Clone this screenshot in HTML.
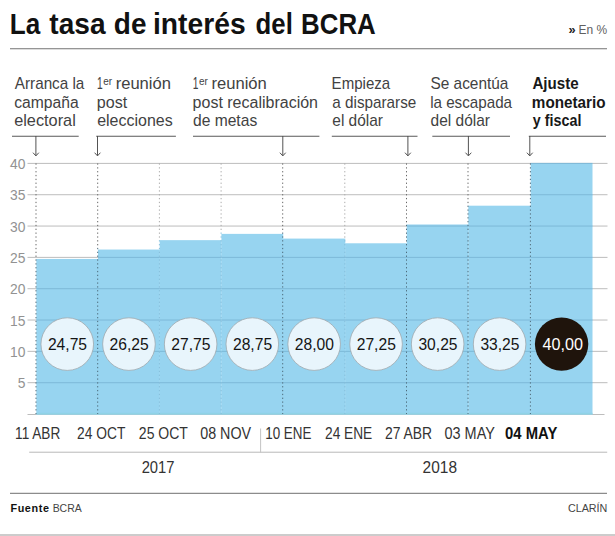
<!DOCTYPE html><html><head><meta charset="utf-8"><style>html,body{margin:0;padding:0;background:#fff}svg{display:block}text{font-family:"Liberation Sans",sans-serif}</style></head><body>
<svg width="615" height="536" viewBox="0 0 615 536">
<rect width="615" height="536" fill="#fff"/>
<text transform="translate(9.74,34.00) scale(0.8824,1)" font-size="29.6" font-weight="bold" fill="#111">La</text>
<text transform="translate(49.34,34.00) scale(0.9492,1)" font-size="29.6" font-weight="bold" fill="#111">tasa</text>
<text transform="translate(113.82,34.00) scale(0.9457,1)" font-size="29.6" font-weight="bold" fill="#111">de</text>
<text transform="translate(152.97,34.00) scale(0.9547,1)" font-size="29.6" font-weight="bold" fill="#111">interés</text>
<text transform="translate(255.61,34.00) scale(0.8711,1)" font-size="29.6" font-weight="bold" fill="#111">del</text>
<text transform="translate(301.05,34.00) scale(0.8737,1)" font-size="29.6" font-weight="bold" fill="#111">BCRA</text>
<text transform="translate(568.46,34.40) scale(1.0261,1)" font-size="12.5" font-weight="bold" fill="#222">»</text>
<text transform="translate(578.38,34.30) scale(0.9025,1)" font-size="13.3" fill="#606060">En %</text>
<rect x="10" y="48.1" width="597" height="1.2" fill="#8a8a8a"/>
<rect x="27.5" y="382.18" width="580" height="1" fill="#bdbdbd"/>
<text transform="translate(17.74,388.28) scale(0.955,1)" font-size="14.5" fill="#929292">5</text>
<rect x="27.5" y="350.85" width="580" height="1" fill="#bdbdbd"/>
<text transform="translate(10.10,356.95) scale(0.955,1)" font-size="14.5" fill="#929292">10</text>
<rect x="27.5" y="319.52" width="580" height="1" fill="#bdbdbd"/>
<text transform="translate(10.10,325.62) scale(0.955,1)" font-size="14.5" fill="#929292">15</text>
<rect x="27.5" y="288.20" width="580" height="1" fill="#bdbdbd"/>
<text transform="translate(10.10,294.30) scale(0.955,1)" font-size="14.5" fill="#929292">20</text>
<rect x="27.5" y="256.88" width="580" height="1" fill="#bdbdbd"/>
<text transform="translate(10.10,262.98) scale(0.955,1)" font-size="14.5" fill="#929292">25</text>
<rect x="27.5" y="225.55" width="580" height="1" fill="#bdbdbd"/>
<text transform="translate(10.10,231.65) scale(0.955,1)" font-size="14.5" fill="#929292">30</text>
<rect x="27.5" y="194.22" width="580" height="1" fill="#bdbdbd"/>
<text transform="translate(10.10,200.32) scale(0.955,1)" font-size="14.5" fill="#929292">35</text>
<rect x="27.5" y="162.90" width="580" height="1" fill="#bdbdbd"/>
<text transform="translate(10.10,169.00) scale(0.955,1)" font-size="14.5" fill="#929292">40</text>
<rect x="27.5" y="414.00" width="577" height="1" fill="#bdbdbd"/>
<rect x="36.30" y="258.94" width="61.90" height="155.56" fill="#97d4f0"/>
<rect x="36.30" y="382.18" width="61.90" height="1" fill="#7db9d8"/>
<rect x="36.30" y="350.85" width="61.90" height="1" fill="#7db9d8"/>
<rect x="36.30" y="319.52" width="61.90" height="1" fill="#7db9d8"/>
<rect x="36.30" y="288.20" width="61.90" height="1" fill="#7db9d8"/>
<rect x="98.00" y="249.54" width="61.90" height="164.96" fill="#97d4f0"/>
<rect x="98.00" y="382.18" width="61.90" height="1" fill="#7db9d8"/>
<rect x="98.00" y="350.85" width="61.90" height="1" fill="#7db9d8"/>
<rect x="98.00" y="319.52" width="61.90" height="1" fill="#7db9d8"/>
<rect x="98.00" y="288.20" width="61.90" height="1" fill="#7db9d8"/>
<rect x="98.00" y="256.88" width="61.90" height="1" fill="#7db9d8"/>
<rect x="159.70" y="240.15" width="61.90" height="174.35" fill="#97d4f0"/>
<rect x="159.70" y="382.18" width="61.90" height="1" fill="#7db9d8"/>
<rect x="159.70" y="350.85" width="61.90" height="1" fill="#7db9d8"/>
<rect x="159.70" y="319.52" width="61.90" height="1" fill="#7db9d8"/>
<rect x="159.70" y="288.20" width="61.90" height="1" fill="#7db9d8"/>
<rect x="159.70" y="256.88" width="61.90" height="1" fill="#7db9d8"/>
<rect x="221.40" y="233.88" width="61.80" height="180.62" fill="#97d4f0"/>
<rect x="221.40" y="382.18" width="61.80" height="1" fill="#7db9d8"/>
<rect x="221.40" y="350.85" width="61.80" height="1" fill="#7db9d8"/>
<rect x="221.40" y="319.52" width="61.80" height="1" fill="#7db9d8"/>
<rect x="221.40" y="288.20" width="61.80" height="1" fill="#7db9d8"/>
<rect x="221.40" y="256.88" width="61.80" height="1" fill="#7db9d8"/>
<rect x="283.00" y="238.58" width="62.30" height="175.92" fill="#97d4f0"/>
<rect x="283.00" y="382.18" width="62.30" height="1" fill="#7db9d8"/>
<rect x="283.00" y="350.85" width="62.30" height="1" fill="#7db9d8"/>
<rect x="283.00" y="319.52" width="62.30" height="1" fill="#7db9d8"/>
<rect x="283.00" y="288.20" width="62.30" height="1" fill="#7db9d8"/>
<rect x="283.00" y="256.88" width="62.30" height="1" fill="#7db9d8"/>
<rect x="345.10" y="243.28" width="61.90" height="171.22" fill="#97d4f0"/>
<rect x="345.10" y="382.18" width="61.90" height="1" fill="#7db9d8"/>
<rect x="345.10" y="350.85" width="61.90" height="1" fill="#7db9d8"/>
<rect x="345.10" y="319.52" width="61.90" height="1" fill="#7db9d8"/>
<rect x="345.10" y="288.20" width="61.90" height="1" fill="#7db9d8"/>
<rect x="345.10" y="256.88" width="61.90" height="1" fill="#7db9d8"/>
<rect x="406.80" y="224.48" width="61.70" height="190.02" fill="#97d4f0"/>
<rect x="406.80" y="382.18" width="61.70" height="1" fill="#7db9d8"/>
<rect x="406.80" y="350.85" width="61.70" height="1" fill="#7db9d8"/>
<rect x="406.80" y="319.52" width="61.70" height="1" fill="#7db9d8"/>
<rect x="406.80" y="288.20" width="61.70" height="1" fill="#7db9d8"/>
<rect x="406.80" y="256.88" width="61.70" height="1" fill="#7db9d8"/>
<rect x="406.80" y="225.55" width="61.70" height="1" fill="#7db9d8"/>
<rect x="468.30" y="205.69" width="62.60" height="208.81" fill="#97d4f0"/>
<rect x="468.30" y="382.18" width="62.60" height="1" fill="#7db9d8"/>
<rect x="468.30" y="350.85" width="62.60" height="1" fill="#7db9d8"/>
<rect x="468.30" y="319.52" width="62.60" height="1" fill="#7db9d8"/>
<rect x="468.30" y="288.20" width="62.60" height="1" fill="#7db9d8"/>
<rect x="468.30" y="256.88" width="62.60" height="1" fill="#7db9d8"/>
<rect x="468.30" y="225.55" width="62.60" height="1" fill="#7db9d8"/>
<rect x="530.70" y="163.40" width="61.80" height="251.10" fill="#97d4f0"/>
<rect x="530.70" y="382.18" width="61.80" height="1" fill="#7db9d8"/>
<rect x="530.70" y="350.85" width="61.80" height="1" fill="#7db9d8"/>
<rect x="530.70" y="319.52" width="61.80" height="1" fill="#7db9d8"/>
<rect x="530.70" y="288.20" width="61.80" height="1" fill="#7db9d8"/>
<rect x="530.70" y="256.88" width="61.80" height="1" fill="#7db9d8"/>
<rect x="530.70" y="225.55" width="61.80" height="1" fill="#7db9d8"/>
<rect x="530.70" y="194.22" width="61.80" height="1" fill="#7db9d8"/>
<rect x="530.70" y="162.90" width="61.80" height="1" fill="#7db9d8"/>
<rect x="36.30" y="412.80" width="556.20" height="1.7" fill="#8fd3e6"/>
<line x1="36.00" y1="163.40" x2="36.00" y2="259.40" stroke="#666" stroke-width="1" stroke-dasharray="1.3 2.54"/>
<line x1="36.00" y1="259.40" x2="36.00" y2="414.00" stroke="#4d6a7a" stroke-width="1" stroke-dasharray="1.3 2.54"/>
<line x1="97.70" y1="163.40" x2="97.70" y2="247.88" stroke="#666" stroke-width="1" stroke-dasharray="1.3 2.54"/>
<line x1="97.70" y1="247.88" x2="97.70" y2="414.00" stroke="#4d6a7a" stroke-width="1" stroke-dasharray="1.3 2.54"/>
<line x1="159.40" y1="163.40" x2="159.40" y2="240.20" stroke="#aaa" stroke-width="1" stroke-dasharray="1.3 2.54"/>
<line x1="159.40" y1="240.20" x2="159.40" y2="414.00" stroke="#85bedb" stroke-width="1" stroke-dasharray="1.3 2.54"/>
<line x1="221.10" y1="163.40" x2="221.10" y2="232.52" stroke="#aaa" stroke-width="1" stroke-dasharray="1.3 2.54"/>
<line x1="221.10" y1="232.52" x2="221.10" y2="414.00" stroke="#85bedb" stroke-width="1" stroke-dasharray="1.3 2.54"/>
<line x1="282.70" y1="163.40" x2="282.70" y2="232.52" stroke="#666" stroke-width="1" stroke-dasharray="1.3 2.54"/>
<line x1="282.70" y1="232.52" x2="282.70" y2="414.00" stroke="#4d6a7a" stroke-width="1" stroke-dasharray="1.3 2.54"/>
<line x1="344.80" y1="163.40" x2="344.80" y2="240.20" stroke="#aaa" stroke-width="1" stroke-dasharray="1.3 2.54"/>
<line x1="344.80" y1="240.20" x2="344.80" y2="414.00" stroke="#85bedb" stroke-width="1" stroke-dasharray="1.3 2.54"/>
<line x1="406.50" y1="163.40" x2="406.50" y2="224.84" stroke="#666" stroke-width="1" stroke-dasharray="1.3 2.54"/>
<line x1="406.50" y1="224.84" x2="406.50" y2="414.00" stroke="#4d6a7a" stroke-width="1" stroke-dasharray="1.3 2.54"/>
<line x1="468.00" y1="163.40" x2="468.00" y2="205.64" stroke="#666" stroke-width="1" stroke-dasharray="1.3 2.54"/>
<line x1="468.00" y1="205.64" x2="468.00" y2="414.00" stroke="#4d6a7a" stroke-width="1" stroke-dasharray="1.3 2.54"/>
<line x1="530.40" y1="163.40" x2="530.40" y2="163.40" stroke="#666" stroke-width="1" stroke-dasharray="1.3 2.54"/>
<line x1="530.40" y1="163.40" x2="530.40" y2="414.00" stroke="#4d6a7a" stroke-width="1" stroke-dasharray="1.3 2.54"/>
<circle cx="67.25" cy="344.1" r="26.3" fill="#e8f5fc" stroke="#9fa8ad" stroke-width="0.8"/>
<text transform="translate(47.92,349.50) scale(0.9786,1)" font-size="16" fill="#151515">24,75</text>
<circle cx="128.95" cy="344.1" r="26.3" fill="#e8f5fc" stroke="#9fa8ad" stroke-width="0.8"/>
<text transform="translate(109.62,349.50) scale(0.9786,1)" font-size="16" fill="#151515">26,25</text>
<circle cx="190.65" cy="344.1" r="26.3" fill="#e8f5fc" stroke="#9fa8ad" stroke-width="0.8"/>
<text transform="translate(171.32,349.50) scale(0.9786,1)" font-size="16" fill="#151515">27,75</text>
<circle cx="252.30" cy="344.1" r="26.3" fill="#e8f5fc" stroke="#9fa8ad" stroke-width="0.8"/>
<text transform="translate(232.97,349.50) scale(0.9786,1)" font-size="16" fill="#151515">28,75</text>
<circle cx="314.15" cy="344.1" r="26.3" fill="#e8f5fc" stroke="#9fa8ad" stroke-width="0.8"/>
<text transform="translate(294.82,349.50) scale(0.9786,1)" font-size="16" fill="#151515">28,00</text>
<circle cx="376.05" cy="344.1" r="26.3" fill="#e8f5fc" stroke="#9fa8ad" stroke-width="0.8"/>
<text transform="translate(356.72,349.50) scale(0.9786,1)" font-size="16" fill="#151515">27,25</text>
<circle cx="437.65" cy="344.1" r="26.3" fill="#e8f5fc" stroke="#9fa8ad" stroke-width="0.8"/>
<text transform="translate(418.44,349.50) scale(0.9755,1)" font-size="16" fill="#151515">30,25</text>
<circle cx="499.60" cy="344.1" r="26.3" fill="#e8f5fc" stroke="#9fa8ad" stroke-width="0.8"/>
<text transform="translate(480.39,349.50) scale(0.9755,1)" font-size="16" fill="#151515">33,25</text>
<circle cx="561.60" cy="344.1" r="26.7" fill="#1f140c"/>
<text transform="translate(542.52,349.50) scale(1.0103,1)" font-size="16" fill="#fff">40,00</text>
<text transform="translate(14.80,88.80) scale(0.9551,1)" font-size="16" fill="#424242">Arranca la</text>
<text transform="translate(14.19,107.55) scale(0.9793,1)" font-size="16" fill="#424242">campaña</text>
<text transform="translate(14.16,126.30) scale(1.0196,1)" font-size="16" fill="#424242">electoral</text>
<rect x="12" y="135.75" width="66.70" height="1" fill="#5a5a5a"/>
<path d="M35.90 136 V155.5 M33.00 152.7 L35.90 155.9 L38.80 152.7" fill="none" stroke="#4a4a4a" stroke-width="0.95"/>
<text transform="translate(97.00,88.80) scale(0.6400,1)" font-size="16" fill="#424242">1</text>
<text transform="translate(103.26,84.60) scale(0.8853,1)" font-size="11.3" fill="#424242">er</text>
<text transform="translate(115.63,88.80) scale(1.0380,1)" font-size="16" fill="#424242">reunión</text>
<text transform="translate(96.79,107.55) scale(1.0060,1)" font-size="16" fill="#424242">post</text>
<text transform="translate(97.18,126.30) scale(0.9990,1)" font-size="16" fill="#424242">elecciones</text>
<rect x="96.2" y="135.75" width="79.70" height="1" fill="#5a5a5a"/>
<path d="M97.50 136 V155.5 M94.60 152.7 L97.50 155.9 L100.40 152.7" fill="none" stroke="#4a4a4a" stroke-width="0.95"/>
<text transform="translate(192.80,88.80) scale(0.6400,1)" font-size="16" fill="#424242">1</text>
<text transform="translate(199.06,84.60) scale(0.8853,1)" font-size="11.3" fill="#424242">er</text>
<text transform="translate(211.43,88.80) scale(1.0380,1)" font-size="16" fill="#424242">reunión</text>
<text transform="translate(192.60,107.55) scale(1.0002,1)" font-size="16" fill="#424242">post recalibración</text>
<text transform="translate(192.99,126.30) scale(0.9764,1)" font-size="16" fill="#424242">de metas</text>
<rect x="193" y="135.75" width="126.40" height="1" fill="#5a5a5a"/>
<path d="M282.80 136 V155.5 M279.90 152.7 L282.80 155.9 L285.70 152.7" fill="none" stroke="#4a4a4a" stroke-width="0.95"/>
<text transform="translate(331.60,88.80) scale(0.9429,1)" font-size="16" fill="#424242">Empieza</text>
<text transform="translate(332.30,107.55) scale(0.9556,1)" font-size="16" fill="#424242">a dispararse</text>
<text transform="translate(332.30,126.30) scale(0.9666,1)" font-size="16" fill="#424242">el dólar</text>
<rect x="331.8" y="135.75" width="85.70" height="1" fill="#5a5a5a"/>
<path d="M407.90 136 V155.5 M405.00 152.7 L407.90 155.9 L410.80 152.7" fill="none" stroke="#4a4a4a" stroke-width="0.95"/>
<text transform="translate(430.48,88.80) scale(0.9632,1)" font-size="16" fill="#424242">Se acentúa</text>
<text transform="translate(430.13,107.55) scale(0.9504,1)" font-size="16" fill="#424242">la escapada</text>
<text transform="translate(430.59,126.30) scale(0.9686,1)" font-size="16" fill="#424242">del dólar</text>
<rect x="432.3" y="135.75" width="77.70" height="1" fill="#5a5a5a"/>
<path d="M468.40 136 V155.5 M465.50 152.7 L468.40 155.9 L471.30 152.7" fill="none" stroke="#4a4a4a" stroke-width="0.95"/>
<text transform="translate(532.43,88.80) scale(0.9462,1)" font-size="16" font-weight="bold" fill="#181818">Ajuste</text>
<text transform="translate(531.83,107.55) scale(0.9547,1)" font-size="16" font-weight="bold" fill="#181818">monetario</text>
<text transform="translate(532.79,126.30) scale(0.8962,1)" font-size="16" font-weight="bold" fill="#181818">y fiscal</text>
<rect x="528.8" y="135.75" width="77.20" height="1" fill="#5a5a5a"/>
<path d="M529.80 136 V155.5 M526.90 152.7 L529.80 155.9 L532.70 152.7" fill="none" stroke="#4a4a4a" stroke-width="0.95"/>
<text transform="translate(15.11,439.10) scale(0.8733,1)" font-size="15.6" fill="#333">11 ABR</text>
<text transform="translate(77.04,439.10) scale(0.8841,1)" font-size="15.6" fill="#333">24 OCT</text>
<text transform="translate(138.83,439.10) scale(0.8991,1)" font-size="15.6" fill="#333">25 OCT</text>
<text transform="translate(200.23,439.10) scale(0.9169,1)" font-size="15.6" fill="#333">08 NOV</text>
<text transform="translate(265.23,439.10) scale(0.8598,1)" font-size="15.6" fill="#333">10 ENE</text>
<text transform="translate(325.04,439.10) scale(0.8783,1)" font-size="15.6" fill="#333">24 ENE</text>
<text transform="translate(384.93,439.10) scale(0.8900,1)" font-size="15.6" fill="#333">27 ABR</text>
<text transform="translate(444.52,439.10) scale(0.9277,1)" font-size="15.6" fill="#333">03 MAY</text>
<text transform="translate(505.11,439.10) scale(0.9519,1)" font-size="15.6" font-weight="bold" fill="#111">04 MAY</text>
<rect x="29.2" y="451.7" width="578" height="1" fill="#b8b8b8"/>
<rect x="260.1" y="428.5" width="1" height="24" fill="#c4c4c4"/>
<text transform="translate(141.64,472.60) scale(0.8692,1)" font-size="17" fill="#333">2017</text>
<text transform="translate(422.60,472.60) scale(0.9103,1)" font-size="17" fill="#333">2018</text>
<rect x="10" y="492.8" width="597" height="1" fill="#707070"/>
<text x="10.4" y="511.5" font-size="10.8" font-weight="bold" fill="#111" textLength="38.6" lengthAdjust="spacing">Fuente</text>
<text transform="translate(52.63,511.50) scale(0.9982,1)" font-size="10.5" fill="#444">BCRA</text>
<text transform="translate(567.89,511.60) scale(1.0263,1)" font-size="10.5" fill="#444">CLARÍN</text>
<rect x="0" y="534" width="615" height="2" fill="#ccc"/>
</svg></body></html>
